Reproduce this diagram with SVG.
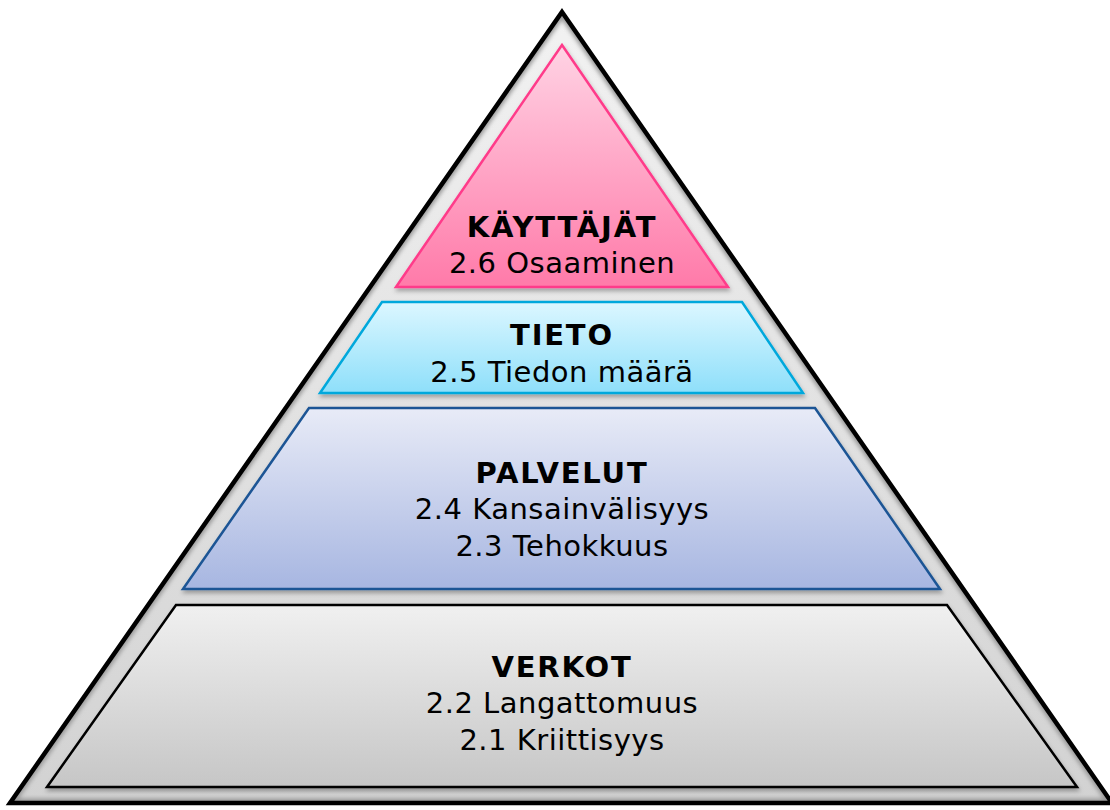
<svg xmlns="http://www.w3.org/2000/svg" width="1110" height="810" viewBox="0 0 1110 810">
<defs>
<linearGradient id="gOuter" x1="0" y1="0" x2="0" y2="1"><stop offset="0" stop-color="#f2f2f2"/><stop offset="1" stop-color="#d2d2d2"/></linearGradient>
<linearGradient id="gPink" x1="0" y1="0" x2="0" y2="1"><stop offset="0" stop-color="#ffd3e4"/><stop offset="1" stop-color="#ff7aa9"/></linearGradient>
<linearGradient id="gCyan" x1="0" y1="0" x2="0" y2="1"><stop offset="0" stop-color="#dcf7ff"/><stop offset="1" stop-color="#8edffa"/></linearGradient>
<linearGradient id="gBlue" x1="0" y1="0" x2="0" y2="1"><stop offset="0" stop-color="#e8ebf7"/><stop offset="1" stop-color="#a7b6e1"/></linearGradient>
<linearGradient id="gGray" x1="0" y1="0" x2="0" y2="1"><stop offset="0" stop-color="#f0f0f0"/><stop offset="1" stop-color="#c6c6c6"/></linearGradient>
<filter id="sh" x="-10%" y="-10%" width="120%" height="120%"><feDropShadow dx="1" dy="3" stdDeviation="2" flood-color="#000" flood-opacity="0.3"/></filter>
<filter id="blur" x="-5%" y="-5%" width="110%" height="110%"><feGaussianBlur stdDeviation="2"/></filter>
<clipPath id="cOuter"><polygon points="562,12 1112,803 10,803"/></clipPath>
</defs>
<style>
.t{font-family:"DejaVu Sans",Verdana,sans-serif;font-size:29px;fill:#000;text-anchor:middle;letter-spacing:0.5px}
.b{font-weight:bold;letter-spacing:1.8px}
</style>
<g id="outer">
<polygon points="562,12 1112,803 10,803" fill="url(#gOuter)"/>
<polygon points="562,12 1112,803 10,803" fill="none" stroke="#999" stroke-width="9" clip-path="url(#cOuter)" filter="url(#blur)"/>
<polygon points="562,12 1112,803 10,803" fill="none" stroke="#000" stroke-width="4.5" stroke-linejoin="miter"/>
</g>
<g id="kayttajat">
<polygon points="562,45 728,287 396,287" fill="url(#gPink)" stroke="#ff3b8a" stroke-width="2.5" filter="url(#sh)"/>
<text class="t b" x="562" y="237">KÄYTTÄJÄT</text>
<text class="t" x="562" y="273">2.6 Osaaminen</text>
</g>
<g id="tieto">
<polygon points="382,302 742,302 803,393 320,393" fill="url(#gCyan)" stroke="#00a8dc" stroke-width="2.5" filter="url(#sh)"/>
<text class="t b" x="562" y="345">TIETO</text>
<text class="t" x="562" y="382">2.5 Tiedon määrä</text>
</g>
<g id="palvelut">
<polygon points="309,408 815,408 940,589 183,589" fill="url(#gBlue)" stroke="#1c5595" stroke-width="2.5" filter="url(#sh)"/>
<text class="t b" x="562" y="483">PALVELUT</text>
<text class="t" x="562" y="519">2.4 Kansainvälisyys</text>
<text class="t" x="562" y="556">2.3 Tehokkuus</text>
</g>
<g id="verkot">
<polygon points="176,605 947,605 1077,787 47,787" fill="url(#gGray)" stroke="#000" stroke-width="2.5" filter="url(#sh)"/>
<text class="t b" x="562" y="677">VERKOT</text>
<text class="t" x="562" y="713">2.2 Langattomuus</text>
<text class="t" x="562" y="750">2.1 Kriittisyys</text>
</g>
<g id="connectors"/>
</svg>
